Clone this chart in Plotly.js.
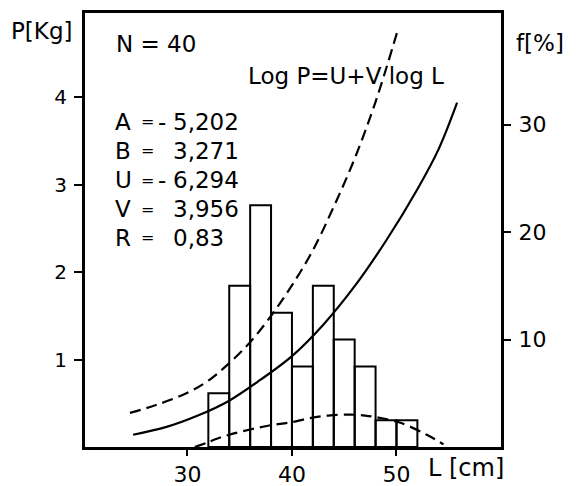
<!DOCTYPE html>
<html>
<head>
<meta charset="utf-8">
<script src="https://cdn.plot.ly/plotly-3.0.1.min.js"></script>
<style>html,body{margin:0;padding:0;background:#fff;}#chart{width:576px;height:486px;}</style>
</head>
<body>
<div id="chart"></div>
<script>
// Histogram: length classes (cm, bin centres) and frequency (%)
var binCenters = [33, 35, 37, 39, 41, 43, 45, 47, 49, 51];
var freqPct = [5, 15, 22.5, 12.5, 7.5, 15, 10, 7.5, 2.5, 2.5];

// Fitted weight curve (solid): L [cm] -> P [Kg]
var solidL = [24.8, 28, 31, 34, 37, 40, 43, 46, 49, 52, 54, 55.8];
var solidP = [0.14, 0.23, 0.36, 0.53, 0.77, 1.04, 1.40, 1.84, 2.36, 2.95, 3.40, 3.94];

// Upper dashed curve
var upperL = [24.5, 27, 30, 32, 34, 36, 38, 40, 42, 44, 46, 48, 50.2];
var upperP = [0.39, 0.48, 0.62, 0.76, 0.96, 1.20, 1.50, 1.85, 2.25, 2.75, 3.30, 3.95, 4.80];

// Lower dashed curve
var lowerL = [30.7, 31.9, 32.6, 34, 36, 38, 39.8, 41.7, 43.5, 45.6, 47, 48.1, 50.3, 52.9, 54.5];
var lowerP = [0.0, 0.05, 0.086, 0.14, 0.20, 0.25, 0.28, 0.33, 0.36, 0.37, 0.36, 0.34, 0.28, 0.14, 0.03];

// Axis ticks
var xTicks = [30, 40, 50];
var yTicks = [1, 2, 3, 4];
var y2Ticks = [10, 20, 30];

// Texts
var statLabels = ['A', 'B', 'U', 'V', 'R'];
var statSigns = ['-', '', '-', '', ''];
var statNumbers = ['5,202', '3,271', '6,294', '3,956', '0,83'];
var nText = 'N = 40';
var formulaText = 'Log P=U+V log L';
var yTitle = 'P[Kg]';
var y2Title = 'f[%]';
var xTitle = 'L [cm]';

var FONT = 'DejaVu Sans, sans-serif';
var ML = 85, MR = 75, MT = 13, MB = 39, W = 576, H = 486;
var PW = W - ML - MR, PH = H - MT - MB;
function px(x) { return (x - ML) / PW; }
function py(y) { return (H - MB - y) / PH; }

var traces = [
  { type: 'scatter', mode: 'lines', x: solidL, y: solidP, xaxis: 'x', yaxis: 'y',
    line: { color: '#000', width: 2.2, shape: 'spline' }, hoverinfo: 'skip' },
  { type: 'scatter', mode: 'lines', x: upperL, y: upperP, xaxis: 'x', yaxis: 'y',
    line: { color: '#000', width: 2.2, shape: 'spline', dash: '11px,6px' }, hoverinfo: 'skip' },
  { type: 'scatter', mode: 'lines', x: lowerL, y: lowerP, xaxis: 'x', yaxis: 'y',
    line: { color: '#000', width: 2.2, shape: 'spline', dash: '11px,6px' }, hoverinfo: 'skip' },
  { type: 'bar', x: binCenters, y: freqPct, width: 2, xaxis: 'x', yaxis: 'y2',
    marker: { color: 'rgba(0,0,0,0)', line: { color: '#000', width: 2 } }, hoverinfo: 'skip' }
];

var annotations = [];
function ann(text, x, y, xanchor, size) {
  annotations.push({ text: text, xref: 'paper', yref: 'paper', x: px(x), y: py(y),
    xanchor: xanchor, yanchor: 'middle', showarrow: false, borderpad: 0,
    font: { family: FONT, size: size, color: '#000' } });
}
ann(yTitle, 10, 31, 'left', 23);
ann(y2Title, 515, 43, 'left', 23);
ann(nText, 115, 44, 'left', 23);
ann(formulaText, 247, 76, 'left', 23);
ann(xTitle, 427, 468, 'left', 24);
var rowY = [122, 151, 180, 209, 238];
for (var i = 0; i < statLabels.length; i++) {
  ann(statLabels[i], 114, rowY[i], 'left', 23);
  ann('=', 140, rowY[i], 'left', 16);
  if (statSigns[i]) ann(statSigns[i], 157, rowY[i], 'left', 23);
  ann(statNumbers[i], 172, rowY[i], 'left', 23);
}

var layout = {
  width: W, height: H,
  margin: { l: ML, r: MR, t: MT, b: MB, pad: 0 },
  paper_bgcolor: '#fff', plot_bgcolor: '#fff',
  showlegend: false,
  font: { family: FONT, color: '#000' },
  xaxis: { range: [20.2, 60], tickvals: xTicks, ticktext: xTicks.map(String),
    ticks: 'outside', ticklen: 6, tickwidth: 2, tickcolor: '#000',
    showline: true, linecolor: '#000', linewidth: 3, mirror: true,
    showgrid: false, zeroline: false, tickfont: { family: FONT, size: 22, color: '#000' } },
  yaxis: { range: [0, PH / 87.4], tickvals: yTicks, ticktext: yTicks.map(String),
    ticks: 'outside', ticklen: 8, tickwidth: 2, tickcolor: '#000', ticklabelstandoff: 3,
    showline: true, linecolor: '#000', linewidth: 3, mirror: true,
    showgrid: false, zeroline: false, tickfont: { family: FONT, size: 20, color: '#000' } },
  yaxis2: { overlaying: 'y', side: 'right', range: [0, PH / 10.75],
    tickvals: y2Ticks, ticktext: y2Ticks.map(String),
    ticks: 'outside', ticklen: 7, tickwidth: 2, tickcolor: '#000', ticklabelstandoff: 3,
    showline: true, linecolor: '#000', linewidth: 3,
    showgrid: false, zeroline: false, tickfont: { family: FONT, size: 22, color: '#000' } },
  annotations: annotations
};

Plotly.newPlot('chart', traces, layout, { staticPlot: true, displayModeBar: false });
</script>
</body>
</html>
